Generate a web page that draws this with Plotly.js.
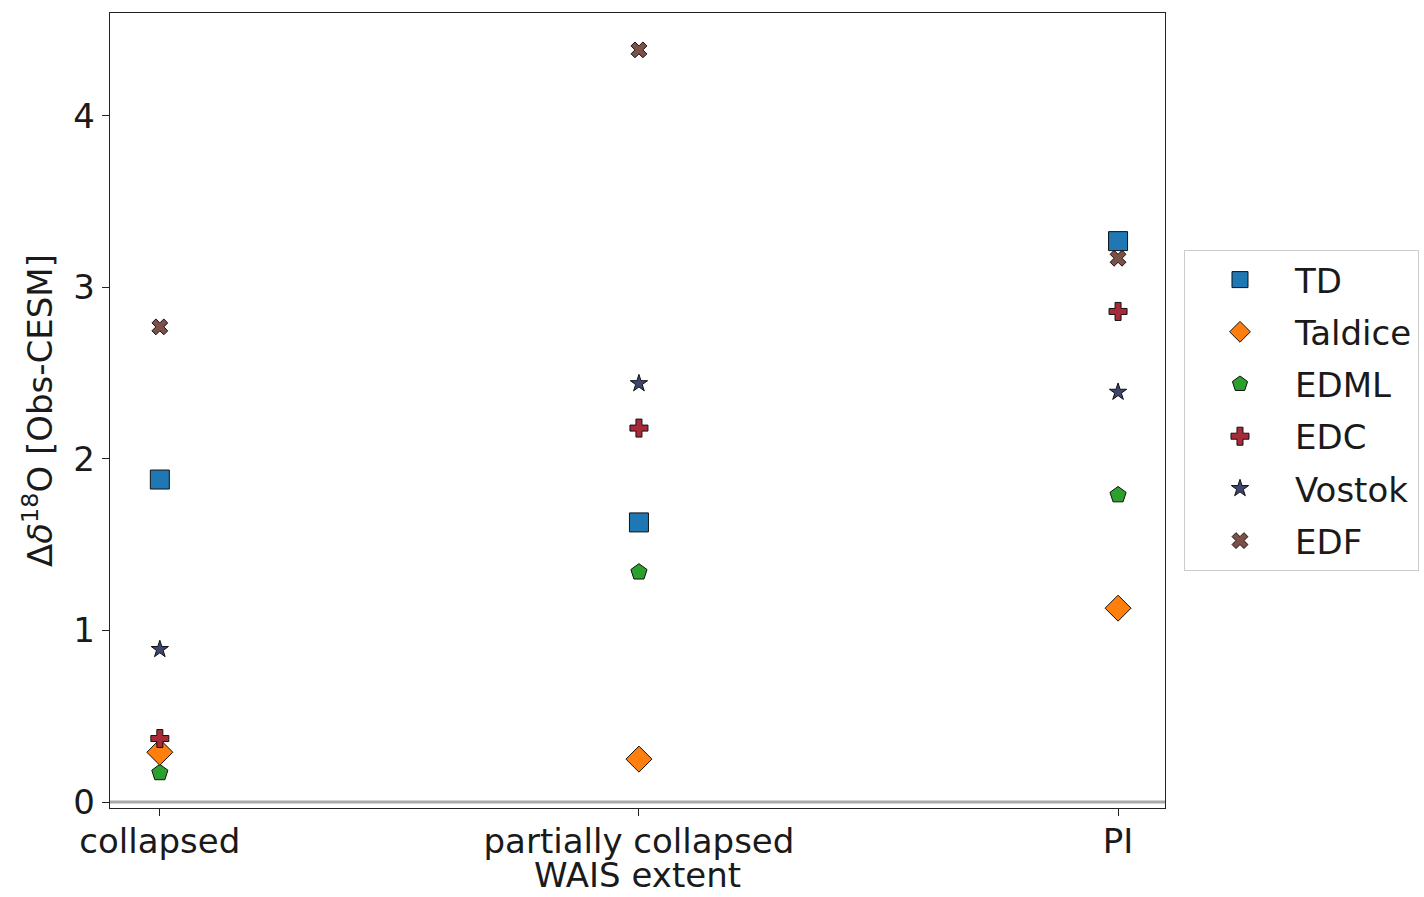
<!DOCTYPE html>
<html>
<head>
<meta charset="utf-8">
<script src="https://cdn.plot.ly/plotly-3.0.1.min.js"></script>
<style>html,body{margin:0;padding:0;background:#fff;}#chart{width:1424px;height:897px;}</style>
</head>
<body>
<div id="chart"></div>
<script>
const categories = ["collapsed", "partially collapsed", "PI"];
const seriesNames = ["TD", "Taldice", "EDML", "EDC", "Vostok", "EDF"];
const TD      = [1.88, 1.63, 3.27];
const Taldice = [0.29, 0.25, 1.13];
const EDML    = [0.17, 1.34, 1.79];
const EDC     = [0.37, 2.18, 2.86];
const Vostok  = [0.89, 2.44, 2.39];
const EDF     = [2.77, 4.385, 3.17];
const yTickVals = [0, 1, 2, 3, 4];
const xTitle = "WAIS extent";
const yTitle = "Δ<i>δ</i><sup>18</sup>O [Obs-CESM]";

const styles = {
  TD:      {symbol: "square",   color: "#1f77b4", size: 19, rank: 1},
  Taldice: {symbol: "diamond",  color: "#ff7f0e", size: 20, rank: 2},
  EDML:    {symbol: "pentagon", color: "#2ca02c", size: 17, rank: 3},
  EDC:     {symbol: "cross",    color: "#a82a38", size: 15, rank: 4},
  Vostok:  {symbol: "star",     color: "#3d4670", size: 13, rank: 5},
  EDF:     {symbol: "x",        color: "#7d5048", size: 14, rank: 6}
};
const values = {TD, Taldice, EDML, EDC, Vostok, EDF};
const drawOrder = ["EDF", "EDML", "Taldice", "EDC", "Vostok", "TD"];

const traces = drawOrder.map(name => ({
  type: "scatter",
  mode: "markers",
  name: name,
  x: categories,
  y: values[name],
  legendrank: styles[name].rank,
  legendgroup: name,
  marker: {
    symbol: styles[name].symbol,
    color: styles[name].color,
    size: styles[name].size,
    line: {color: "#111", width: 1}
  },
  cliponaxis: false
}));

const font = {family: "DejaVu Sans, sans-serif", size: 34, color: "#1a1a1a"};

const layout = {
  width: 1424, height: 897,
  margin: {l: 110, r: 259, t: 13, b: 89, autoexpand: false},
  paper_bgcolor: "#fff", plot_bgcolor: "#fff",
  font: font,
  showlegend: true,
  legend: {
    x: 1.018, xanchor: "left", y: 0.5, yanchor: "middle",
    bordercolor: "#cccccc", borderwidth: 1, bgcolor: "#fff",
    font: font,
    traceorder: "grouped", tracegroupgap: 5, itemwidth: 100
  },
  xaxis: {
    type: "category",
    range: [-0.104, 2.098],
    showgrid: false, zeroline: false,
    showline: true, linecolor: "#222", linewidth: 1.3, mirror: true,
    ticks: "outside", ticklen: 7, tickcolor: "#222", tickwidth: 1,
    ticklabelstandoff: -4,
    tickfont: font
  },
  yaxis: {
    range: [-0.035, 4.6],
    tickvals: yTickVals,
    showgrid: false, zeroline: false,
    showline: true, linecolor: "#222", linewidth: 1.3, mirror: true,
    ticks: "outside", ticklen: 7, tickcolor: "#222", tickwidth: 1,
    tickfont: font,
    title: {text: yTitle, font: font, standoff: 10}
  },
  annotations: [{
    text: xTitle, xref: "paper", yref: "paper", x: 0.5, y: -0.0843,
    xanchor: "center", yanchor: "middle", height: 34, valign: "middle",
    borderpad: 0, showarrow: false, font: font
  }],
  shapes: [{
    type: "line", xref: "paper", x0: 0, x1: 1, yref: "y", y0: 0, y1: 0,
    line: {color: "#aaaaaa", width: 3}, layer: "below"
  }]
};

Plotly.newPlot("chart", traces, layout, {displayModeBar: false, staticPlot: true});
</script>
</body>
</html>
